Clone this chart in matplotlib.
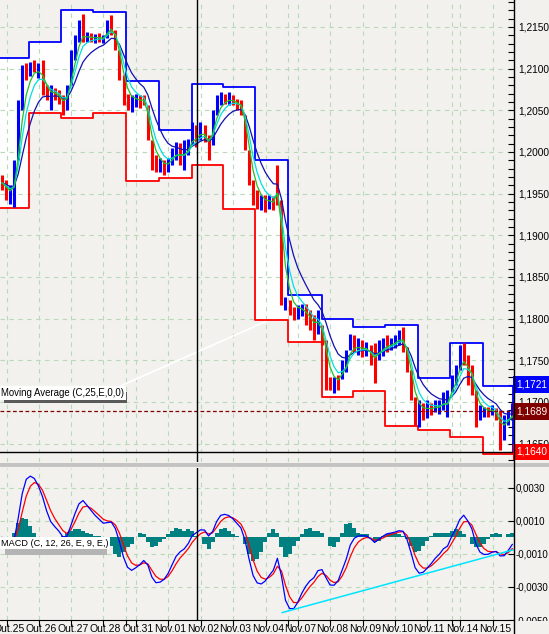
import matplotlib
matplotlib.use('Agg')
import matplotlib.pyplot as plt
from matplotlib.patches import Rectangle
from matplotlib.lines import Line2D
from matplotlib.ticker import FuncFormatter, MultipleLocator
import numpy as np
import pandas as pd

plt.rcParams['font.family'] = ['Liberation Sans', 'DejaVu Sans']

# 3-hour bars, prices in pips above 1.0000 (2150 -> 1.2150)
bar_hi = [1972, 1966, 1960, 1990, 2062, 2104, 2107, 2108, 2110, 2107,
          2110, 2080, 2080, 2077, 2074, 2068, 2080, 2122, 2140, 2158,
          2166, 2144, 2143, 2142, 2143, 2140, 2158, 2164, 2146, 2122,
          2092, 2070, 2068, 2070, 2068, 2068, 2056, 2014, 1996, 1993,
          1990, 1993, 2005, 2012, 2011, 2014, 2016, 2036, 2032, 2036,
          2032, 2020, 2050, 2068, 2072, 2070, 2072, 2068, 2064, 2062,
          2044, 2002, 1966, 1954, 1948, 1948, 1948, 1947, 1984, 1942,
          1826, 1822, 1814, 1816, 1818, 1818, 1810, 1804, 1810, 1792,
          1774, 1730, 1730, 1732, 1750, 1762, 1782, 1780, 1777, 1774,
          1772, 1768, 1771, 1774, 1777, 1780, 1777, 1780, 1786, 1790,
          1766, 1738, 1706, 1702, 1699, 1702, 1699, 1702, 1702, 1712,
          1714, 1732, 1744, 1768, 1771, 1756, 1744, 1714, 1696, 1694,
          1694, 1696, 1693, 1690, 1684, 1690, 1699]
bar_lo = [1954, 1942, 1938, 1934, 1990, 2050, 2086, 2091, 2096, 2089,
          2068, 2062, 2050, 2062, 2058, 2044, 2050, 2080, 2110, 2132,
          2132, 2132, 2132, 2131, 2132, 2131, 2137, 2140, 2122, 2086,
          2056, 2050, 2048, 2054, 2053, 2056, 2014, 1978, 1976, 1976,
          1972, 1976, 1984, 1990, 1984, 1978, 1996, 2008, 2006, 2014,
          2012, 1990, 2008, 2044, 2057, 2058, 2057, 2056, 2050, 2044,
          2002, 1960, 1936, 1932, 1930, 1928, 1932, 1930, 1936, 1816,
          1810, 1804, 1798, 1800, 1803, 1792, 1786, 1774, 1782, 1768,
          1714, 1714, 1711, 1714, 1728, 1736, 1762, 1760, 1756, 1754,
          1755, 1744, 1723, 1750, 1755, 1760, 1762, 1765, 1768, 1760,
          1736, 1702, 1672, 1670, 1678, 1681, 1684, 1688, 1686, 1690,
          1682, 1712, 1720, 1738, 1744, 1720, 1708, 1670, 1678, 1682,
          1682, 1684, 1678, 1642, 1654, 1672, 1678]
bar_dir = ("dduuuududu" "dduddduuuu" "dududuuddd" "dduudddddu" "duuuduuudu"
           "dduuududdd" "ddddududdd" "udduudddud" "dduduuudud" "udduuduuud"
           "dddududuuu" "uuuudddduu" "dudduuu")

# MACD histogram, units of 0.0001
macd_hist = [0, 0, 0, 3, 9, 12, 11, 7, 3, 0,
             -3, -7, -8, -4, -1, 1, 3, 4, 5, 5,
             4, 3, 2, 1, 1, 0, -1, -5, -10, -12,
             -9, -6, -4, 0, 3, 2, -3, -6, -5, -3,
             -1, 2, 4, 6, 5, 4, 5, 4, 1, 0,
             -4, -7, -3, 3, 5, 6, 4, 2, 1, 0,
             -4, -10, -14, -13, -9, -3, 3, 5, 3, -6,
             -12, -10, -5, -2, 2, 5, 6, 4, 4, 3,
             0, -5, -6, -3, 3, 8, 9, 6, 3, 2,
             2, 0, -3, -2, 1, 2, 3, 3, 2, 1,
             -1, -5, -9, -8, -5, -2, 1, 3, 3, 3,
             3, 4, 5, 4, 2, 0, -4, -6, -6, -4,
             -1, 2, 3, 2, 0, 2, 3]

# daily range boxes (edges in bar units, levels in pips)
box_edges = [-0.5, 6.7, 14.6, 22.5, 30.6, 38.8, 46.9, 54.6, 62.5, 70.6,
             79.0, 86.7, 94.6, 102.7, 110.6, 118.8, 126.2]
box_hi = [2113, 2132, 2170, 2168, 2085, 2026, 2082, 2078, 1990, 1828,
          1800, 1790, 1792, 1729, 1771, 1719]
box_lo = [1933, 2047, 2041, 2047, 1965, 1969, 1984, 1932, 1798, 1772,
          1706, 1713, 1671, 1666, 1658, 1638]

day_labels = ['Out.25', 'Out.26', 'Out.27', 'Out.28', 'Out.31', 'Nov.01',
              'Nov.02', 'Nov.03', 'Nov.04', 'Nov.07', 'Nov.08', 'Nov.09',
              'Nov.10', 'Nov.11', 'Nov.14', 'Nov.15']
day_pos = [1.2, 9.1, 17.0, 24.9, 33.1, 41.0, 49.1, 57.0, 65.2, 73.1,
           81.0, 89.1, 97.0, 104.9, 113.1, 121.2]
session_pos = [30.6, 70.6, 111.1]

cursor_x = 48.1
cursor_price = 1.1640
last_price = 1.1689
high_price = 1.1721

# user trendlines (bar, value)
macd_trend = ([69.2, 126.2], [-0.00455, -0.00075])
price_trend = ([29.6, 64.9], [1.1720, 1.1796])

BG = '#f2f1ee'
BOXFILL = '#fdfefd'
GRID = '#b9d9b9'

hi = 1 + np.array(bar_hi) / 1e4
lo = 1 + np.array(bar_lo) / 1e4
x = np.arange(len(hi))
mid = pd.Series((hi + lo) / 2)


def alpha3(n):
    # hourly EMA period converted to 3-hour bars
    return 1 - (1 - 2.0 / (n + 1)) ** 3


ma8 = mid.ewm(alpha=alpha3(8), adjust=False).mean()
ma13 = mid.ewm(alpha=alpha3(13), adjust=False).mean()
ma25 = mid.ewm(alpha=alpha3(25), adjust=False).mean()
macd = mid.ewm(alpha=alpha3(12), adjust=False).mean() - mid.ewm(alpha=alpha3(26), adjust=False).mean()
signal = macd.ewm(alpha=alpha3(9), adjust=False).mean()
hist = np.array(macd_hist) / 1e4

W, H = 549, 634
fig = plt.figure(figsize=(W / 100, H / 100), dpi=100)
fig.patch.set_facecolor(BG)

XL = (-0.494, 126.42)
ax = fig.add_axes([0, 1 - 462 / H, 514 / W, 462 / H])
axm = fig.add_axes([0, 1 - 620 / H, 514 / W, 152 / H])
axd = fig.add_axes([0, 0, 514 / W, 14 / H])

for a in (ax, axm, axd):
    a.set_facecolor(BG)
    a.set_xlim(*XL)
    for s in a.spines.values():
        s.set_visible(False)
    a.set_xticks([])

# ---- price panel
ax.set_ylim(1.16280, 1.21824)
highs = [1 + v / 1e4 for v in box_hi]
lows = [1 + v / 1e4 for v in box_lo]
ax.fill_between(box_edges, lows + [lows[-1]], highs + [highs[-1]], step='post',
                color=BOXFILL, lw=0, zorder=0.5)

for v in np.arange(1.165, 1.2151, 0.005):
    ax.axhline(v, color=GRID, lw=0.8, ls=(0, (4, 4)), zorder=1)
for p in day_pos + session_pos:
    ax.axvline(p, color=GRID, lw=0.8, ls=(0, (4, 4)), zorder=1)
    axm.axvline(p, color=GRID, lw=0.8, ls=(0, (4, 4)), zorder=1)

ax.step(box_edges, highs + [highs[-1]], where='post', color='#0000ff', lw=1.3, zorder=2)
ax.vlines(box_edges[-1], lows[-1], highs[-1], color='#0000ff', lw=1.3, zorder=2)
ax.step(box_edges, lows + [lows[-1]], where='post', color='#ff0000', lw=1.3, zorder=2.1)

cols = ['#0000ff' if d == 'u' else '#ff0000' for d in bar_dir]
ax.vlines(x, lo, hi, colors=cols, lw=2.2, zorder=3)
ax.plot(x, ma25, color='#1010b0', lw=0.9, zorder=4)
ax.plot(x, ma13, color='#00e0e0', lw=0.9, zorder=4)
ax.plot(x, ma8, color='#22c022', lw=0.9, zorder=4)

ax.plot(*price_trend, color='white', lw=1.3, zorder=4.5)
ax.axhline(last_price, color='#800000', lw=0.9, ls=(0, (3, 2)), zorder=4.5)
ax.axhline(cursor_price, color='black', lw=1.0, zorder=5)
ax.axvline(cursor_x, color='black', lw=1.0, zorder=5)

ax.yaxis.tick_right()
ax.yaxis.set_major_locator(MultipleLocator(0.005))
ax.yaxis.set_minor_locator(MultipleLocator(0.001))
ax.yaxis.set_major_formatter(FuncFormatter(lambda v, p: f'{v:.4f}'.replace('.', ',')))
ax.tick_params(axis='y', which='both', direction='in', length=4, width=0.8, pad=3, labelsize=7.3)

for val, col in ((high_price, '#0000ff'), (last_price, '#800000'), (cursor_price, '#ff0000')):
    ax.text(1.004, val, f'{val:.4f}'.replace('.', ','), transform=ax.get_yaxis_transform(),
            ha='left', va='center', color='white', fontsize=7.3, zorder=10, clip_on=False,
            bbox=dict(boxstyle='square,pad=0.33', fc=col, ec='none'))

# ---- MACD panel
axm.set_ylim(-0.0050, 0.00421)
for v in [0.003, 0.001, -0.001, -0.003]:
    axm.axhline(v, color=GRID, lw=0.8, ls=(0, (4, 4)), zorder=1)
axm.bar(x, hist, width=1.0, color='#008080', zorder=2)
axm.plot(x, signal, color='#ff0000', lw=0.9, zorder=3)
axm.plot(x, macd, color='#0000ff', lw=0.9, zorder=3)
axm.plot(*macd_trend, color='#00e5ff', lw=1.1, zorder=3)
axm.axvline(cursor_x, color='black', lw=1.0, zorder=5)
axm.yaxis.tick_right()
axm.set_yticks([0.003, 0.001, -0.001, -0.003, -0.005])
axm.yaxis.set_major_formatter(FuncFormatter(lambda v, p: f'{v:.4f}'.replace('.', ',')))
axm.tick_params(axis='y', direction='in', length=4, width=0.8, pad=1, labelsize=7.0)

# ---- date strip
axd.set_ylim(0, 1)
axd.set_yticks([])
axd.spines['top'].set_visible(True)
axd.spines['top'].set_linewidth(0.8)
axd.xaxis.tick_top()
axd.set_xticks(day_pos + session_pos)
axd.tick_params(axis='x', direction='in', length=4, width=0.8, labeltop=False)
for p, lab in zip(day_pos, day_labels):
    axd.text(p + 0.5, 0.35, lab, ha='center', va='center', fontsize=7.5, clip_on=False)

# ---- labels, separator, right axis line
def fpx(xp, yp):
    return xp / W, 1 - yp / H

fig.add_artist(Rectangle(fpx(4, 403), 123 / W, 11 / H, transform=fig.transFigure,
                         fc='#5a5a5a', ec='none', zorder=6))
fig.text(*fpx(1, 393), 'Moving Average (C,25,E,0,0)', ha='left', va='center', fontsize=6.9,
         zorder=7, bbox=dict(boxstyle='square,pad=0.2', fc='white', ec='none'))
fig.add_artist(Rectangle(fpx(5, 555), 102 / W, 11 / H, transform=fig.transFigure,
                         fc='#b4b4b4', ec='none', zorder=6))
fig.text(*fpx(1, 543), 'MACD (C, 12, 26, E, 9, E,)', ha='left', va='center', fontsize=6.6,
         zorder=7, bbox=dict(boxstyle='square,pad=0.2', fc='white', ec='none'))

fig.add_artist(Rectangle(fpx(0, 467), 1, 4 / H, transform=fig.transFigure,
                         fc='#c4c4c4', ec='none', zorder=6))
fig.add_artist(Rectangle(fpx(514, 634), 35 / W, 13 / H, transform=fig.transFigure,
                         fc=BG, ec='none', zorder=6))
fig.add_artist(Line2D([514 / W, 514 / W], [0, 1], transform=fig.transFigure,
                      color='black', lw=1.0, zorder=7))

fig.savefig('out.png', dpi=100, facecolor=BG)
